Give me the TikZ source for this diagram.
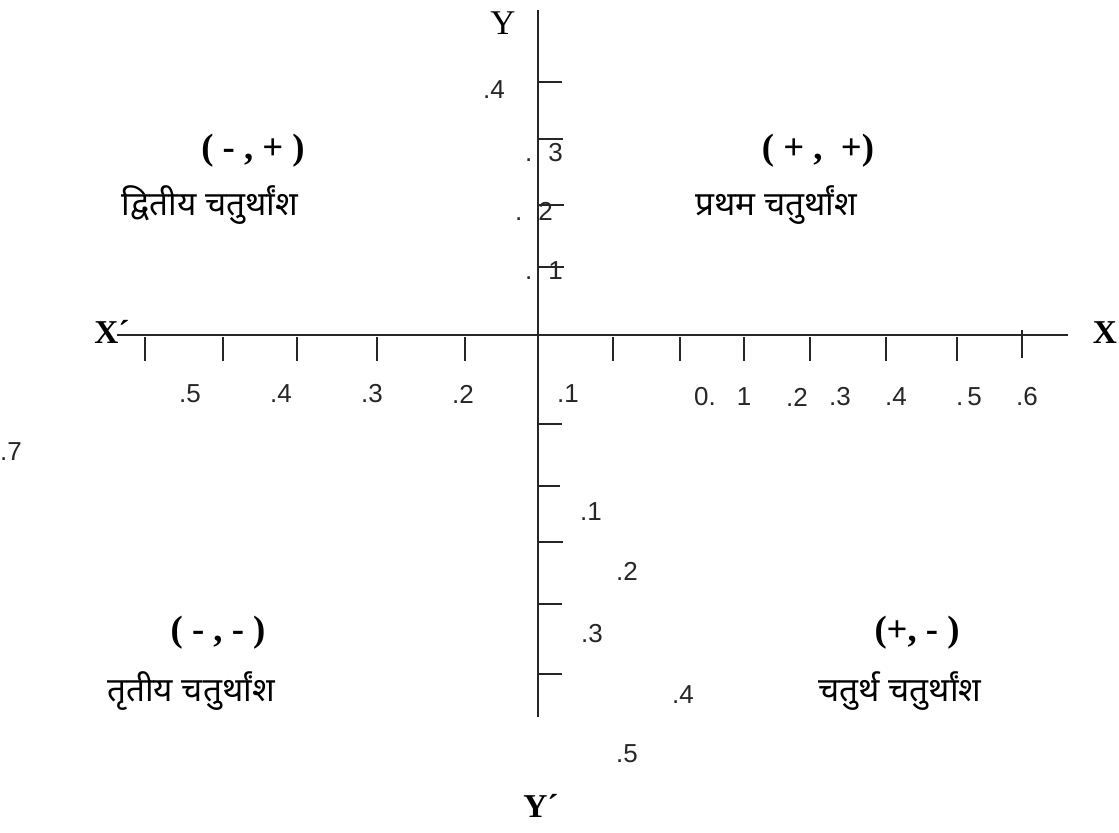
\documentclass[tikz,border=0pt]{standalone}
\usepackage{fontspec}
\setmainfont{Liberation Serif}
\newfontfamily\numfont{Liberation Sans}
\newfontfamily\hindi[Script=Devanagari]{Noto Sans}
\begin{document}
\begin{tikzpicture}[x=0.75pt,y=-0.75pt,
  axis/.style={line width=1.4pt,black!85},
  tick/.style={line width=1.3pt,black!85},
  num/.style={inner sep=0pt,font=\numfont\fontsize{19.5}{22}\selectfont,text=black!85},
  axlab/.style={inner sep=0pt,font=\fontsize{26}{28}\selectfont},
  axlabb/.style={inner sep=0pt,font=\bfseries\fontsize{25}{28}\selectfont},
  sign/.style={inner sep=0pt,font=\bfseries\fontsize{27.5}{30}\selectfont},
  quad/.style={inner sep=0pt,font=\hindi\fontsize{25}{28}\selectfont}]
\useasboundingbox (0,0) rectangle (1119,832);
% axes
\coordinate (ytop) at (538,10);
\coordinate (ybot) at (538,717);
\coordinate (xl) at (117,335);
\coordinate (xr) at (1068,335);
\draw[axis] (ytop) -- (ybot);
\draw[axis] (xl) -- (xr);
% x ticks
\foreach \x in {145,223,297,377,465,613,680,744,810,886,957}
  \draw[tick] (\x,337) -- (\x,361);
\draw[tick] (1022,330) -- (1022,358);
% y ticks
\foreach \y/\e in {82/562,139/563,205/564,267/564,424/562,486/560,542/563,604/562,674/562}
  \draw[tick] (537,\y) -- (\e,\y);
% axis labels
\node[axlab] (Y) at (503,23) {Y};
\node[axlabb] (Yp) at (541,806) {Y´};
\node[axlabb] (Xp) at (112,332) {X´};
\node[axlabb] (X) at (1105,333) {X};
% y numbers (upper)
\node[num] (ya4) at (494,90) {.4};
\node[num] (ya3) at (544,153) {.\kern12pt 3};
\node[num] (ya2) at (534,211) {.\kern12pt 2};
\node[num] (ya1) at (544,271) {.\kern12pt 1};
% x numbers (left)
\node[num] (xn5) at (190,394) {.5};
\node[num] (xn4) at (281,394) {.4};
\node[num] (xn3) at (372,394) {.3};
\node[num] (xn2) at (463,394) {.2};
\node[num] (xn1) at (568,394) {.1};
% x numbers (right)
\node[num] (xp0) at (705,397) {0.};
\node[num] (xp1) at (744,397) {1};
\node[num] (xp2) at (797,397) {.2};
\node[num] (xp3) at (840,397) {.3};
\node[num] (xp4) at (896,397) {.4};
\node[num] (xp5) at (969,397) {.\kern3pt 5};
\node[num] (xp6) at (1027,397) {.6};
\node[num] (x7) at (11,452) {.7};
% y numbers (lower)
\node[num] (yb1) at (591,512) {.1};
\node[num] (yb2) at (627,571) {.2};
\node[num] (yb3) at (592,634) {.3};
\node[num] (yb4) at (683,695) {.4};
\node[num] (yb5) at (627,754) {.5};
% quadrant signs
\node[sign] (q2s) at (253,151) {( - , + )};
\node[sign] (q1s) at (818,151) {( + ,~ +)};
\node[sign] (q3s) at (218,633) {( - , - )};
\node[sign] (q4s) at (917,633) {(+, - )};
% quadrant names
\node[quad] (q2n) at (210,205) {द्वितीय चतुर्थांश};
\node[quad] (q1n) at (776,205) {प्रथम चतुर्थांश};
\node[quad] (q3n) at (191,691) {तृतीय चतुर्थांश};
\node[quad] (q4n) at (900,691) {चतुर्थ चतुर्थांश};
\end{tikzpicture}
\end{document}
